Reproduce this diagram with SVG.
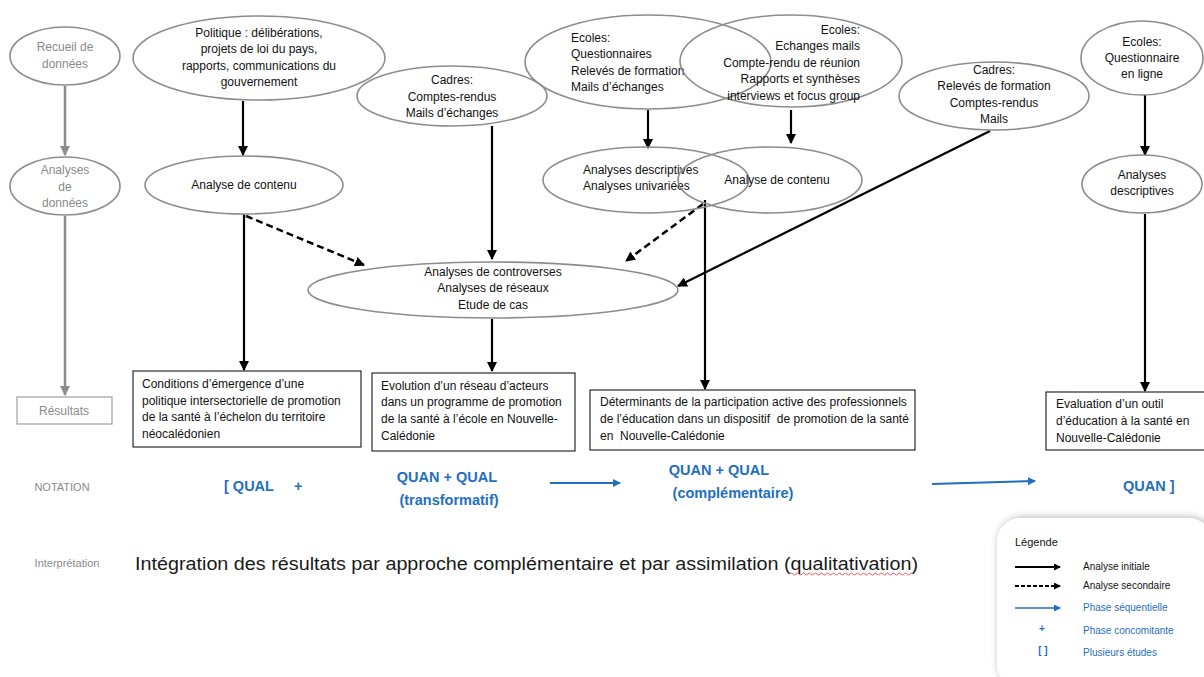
<svg xmlns="http://www.w3.org/2000/svg" width="1204" height="677" viewBox="0 0 1204 677">
<defs>
<marker id="ah" markerWidth="10" markerHeight="10" refX="9" refY="5" orient="auto" markerUnits="userSpaceOnUse"><path d="M0,0 L10,5 L0,10 z" fill="#000"/></marker>
<marker id="ahg" markerWidth="10" markerHeight="10" refX="9" refY="5" orient="auto" markerUnits="userSpaceOnUse"><path d="M0,0 L10,5 L0,10 z" fill="#8c8c8c"/></marker>
<marker id="ahb" markerWidth="8" markerHeight="8" refX="7" refY="4" orient="auto" markerUnits="userSpaceOnUse"><path d="M0,0 L8,4 L0,8 z" fill="#1f6fc0"/></marker>
<marker id="ahs" markerWidth="7" markerHeight="7" refX="6" refY="3.5" orient="auto" markerUnits="userSpaceOnUse"><path d="M0,0 L7,3.5 L0,7 z" fill="#000"/></marker>
<marker id="ahsb" markerWidth="7" markerHeight="7" refX="6" refY="3.5" orient="auto" markerUnits="userSpaceOnUse"><path d="M0,0 L7,3.5 L0,7 z" fill="#1f6fc0"/></marker>
<filter id="sh" x="-20%" y="-20%" width="140%" height="140%"><feGaussianBlur in="SourceAlpha" stdDeviation="4"/><feOffset dx="2" dy="0"/><feComponentTransfer><feFuncA type="linear" slope="0.35"/></feComponentTransfer><feMerge><feMergeNode/><feMergeNode in="SourceGraphic"/></feMerge></filter>
</defs>
<style>
text{font-family:"Liberation Sans Narrow","Liberation Sans",Arial,sans-serif;font-size:12px;fill:#111}
.c{text-anchor:middle}
.e{text-anchor:end}
.ell{fill:none;stroke:#8c8c8c;stroke-width:1.6}
.gl{fill:#8a8a8a}
.box{fill:#fff;stroke:#000;stroke-width:1}
.solid{stroke:#000;stroke-width:2.2;fill:none;marker-end:url(#ah)}
.dash{stroke:#000;stroke-width:2.5;fill:none;stroke-dasharray:7 4;marker-end:url(#ah)}
.gray{stroke:#8c8c8c;stroke-width:2.5;fill:none;marker-end:url(#ahg)}
.blue{stroke:#1f6fc0;stroke-width:2;fill:none;marker-end:url(#ahb)}
.nb{fill:#1f6fc0;font-weight:bold;font-size:14.5px}
.lg{font-size:10px}
.lb{fill:#1f6fc0;font-size:10px}
</style>
<rect width="1204" height="677" fill="#fff"/>

<g id="connectors">
<line class="gray" x1="65" y1="86" x2="65" y2="155"/>
<line class="gray" x1="65" y1="216" x2="65" y2="395"/>
<line class="solid" x1="243" y1="101" x2="243" y2="155"/>
<line class="solid" x1="244" y1="214" x2="244" y2="370"/>
<path class="dash" d="M246,216 L364,265"/>
<line class="solid" x1="492" y1="126" x2="492" y2="259"/>
<line class="solid" x1="492" y1="319" x2="492" y2="371"/>
<line class="solid" x1="648" y1="110" x2="648" y2="148"/>
<line class="solid" x1="791" y1="110" x2="791" y2="143"/>
<path class="dash" d="M703,204 L626,261"/>
<line class="solid" x1="705" y1="200" x2="705" y2="389"/>
<line class="solid" x1="990" y1="131" x2="678" y2="286"/>
<line class="solid" x1="1145" y1="95" x2="1145" y2="155"/>
<line class="solid" x1="1145" y1="214" x2="1145" y2="391"/>
<line class="blue" x1="550" y1="483" x2="620" y2="483"/>
<line class="blue" x1="932" y1="484" x2="1035" y2="481"/>
</g>

<g id="recueil">
<ellipse class="ell" cx="65" cy="56" rx="55" ry="29"/>
<text class="c gl" x="65" y="51">Recueil de</text>
<text class="c gl" x="65" y="68">données</text>
</g>
<g id="analyses-donnees">
<ellipse class="ell" cx="65" cy="186" rx="55" ry="29"/>
<text class="c gl" x="65" y="174">Analyses</text>
<text class="c gl" x="65" y="191">de</text>
<text class="c gl" x="65" y="207">données</text>
</g>
<g id="resultats">
<rect x="17" y="397" width="95" height="27" fill="#fff" stroke="#8c8c8c" stroke-width="1"/>
<text class="c gl" x="64" y="415">Résultats</text>
</g>

<g id="politique">
<ellipse class="ell" cx="259" cy="58" rx="126" ry="42"/>
<text class="c" x="259" y="37">Politique : délibérations,</text>
<text class="c" x="259" y="53">projets de loi du pays,</text>
<text class="c" x="259" y="70">rapports, communications du</text>
<text class="c" x="259" y="86">gouvernement</text>
</g>
<g id="analyse-contenu-1">
<ellipse class="ell" cx="244" cy="185" rx="99" ry="29"/>
<text class="c" x="244" y="189">Analyse de contenu</text>
</g>
<g id="cadres-1">
<ellipse class="ell" cx="452" cy="96" rx="95" ry="30"/>
<text class="c" x="452" y="84">Cadres:</text>
<text class="c" x="452" y="101">Comptes-rendus</text>
<text class="c" x="452" y="117">Mails d’échanges</text>
</g>
<g id="ecoles-1">
<ellipse class="ell" cx="648" cy="62" rx="123" ry="47"/>
<text x="571" y="42">Ecoles:</text>
<text x="571" y="58">Questionnaires</text>
<text x="571" y="75">Relevés de formation</text>
<text x="571" y="91">Mails d’échanges</text>
</g>
<g id="ecoles-2">
<ellipse class="ell" cx="791" cy="61" rx="111" ry="46"/>
<text class="e" x="860" y="34">Ecoles:</text>
<text class="e" x="860" y="50">Echanges mails</text>
<text class="e" x="860" y="67">Compte-rendu de réunion</text>
<text class="e" x="860" y="83">Rapports et synthèses</text>
<text class="e" x="860" y="100">interviews et focus group</text>
</g>
<g id="analyses-descriptives-1">
<ellipse class="ell" cx="646" cy="180" rx="103" ry="33"/>
<text x="583" y="174">Analyses descriptives</text>
<text x="583" y="190">Analyses univariées</text>
</g>
<g id="analyse-contenu-2">
<ellipse class="ell" cx="770" cy="180" rx="92" ry="33"/>
<text class="c" x="777" y="184">Analyse de contenu</text>
</g>
<g id="cadres-2">
<ellipse class="ell" cx="994" cy="96" rx="95" ry="34"/>
<text class="c" x="994" y="74">Cadres:</text>
<text class="c" x="994" y="90">Relevés de formation</text>
<text class="c" x="994" y="107">Comptes-rendus</text>
<text class="c" x="994" y="123">Mails</text>
</g>
<g id="ecoles-3">
<ellipse class="ell" cx="1142" cy="58" rx="61" ry="37"/>
<text class="c" x="1142" y="46">Ecoles:</text>
<text class="c" x="1142" y="62">Questionnaire</text>
<text class="c" x="1142" y="78">en ligne</text>
</g>
<g id="analyses-descriptives-2">
<ellipse class="ell" cx="1142" cy="184" rx="60" ry="29"/>
<text class="c" x="1142" y="179">Analyses</text>
<text class="c" x="1142" y="195">descriptives</text>
</g>
<g id="controverses">
<ellipse class="ell" cx="493" cy="290" rx="185" ry="28"/>
<text class="c" x="493" y="276">Analyses de controverses</text>
<text class="c" x="493" y="292">Analyses de réseaux</text>
<text class="c" x="493" y="309">Etude de cas</text>
</g>

<g id="resultat-1">
<rect class="box" x="133" y="371" width="228" height="76"/>
<text x="142" y="388">Conditions d’émergence d’une</text>
<text x="142" y="405">politique intersectorielle de promotion</text>
<text x="142" y="421">de la santé à l’échelon du territoire</text>
<text x="142" y="438">néocalédonien</text>
</g>
<g id="resultat-2">
<rect class="box" x="372" y="373" width="203" height="78"/>
<text x="381" y="390">Evolution d’un réseau d’acteurs</text>
<text x="381" y="406">dans un programme de promotion</text>
<text x="381" y="423">de la santé à l’école en Nouvelle-</text>
<text x="381" y="440">Calédonie</text>
</g>
<g id="resultat-3">
<rect class="box" x="590" y="390" width="325" height="60"/>
<text x="600" y="406">Déterminants de la participation active des professionnels</text>
<text x="600" y="423">de l’éducation dans un dispositif &#160;de promotion de la santé</text>
<text x="600" y="440">en &#160;Nouvelle-Calédonie</text>
</g>
<g id="resultat-4">
<rect class="box" x="1046" y="392" width="162" height="58"/>
<text x="1056" y="408">Evaluation d’un outil</text>
<text x="1056" y="425">d’éducation à la santé en</text>
<text x="1056" y="442">Nouvelle-Calédonie</text>
</g>

<g id="notation">
<text class="c gl" x="62" y="491" style="font-size:11px">NOTATION</text>
<text class="nb" x="224" y="491">[ QUAL</text>
<text class="nb" x="294" y="491">+</text>
<text class="nb c" x="447" y="482">QUAN + QUAL</text>
<text class="nb c" x="449" y="505">(transformatif)</text>
<text class="nb c" x="719" y="475">QUAN + QUAL</text>
<text class="nb c" x="733" y="498">(complémentaire)</text>
<text class="nb" x="1123" y="491">QUAN ]</text>
</g>

<g id="interpretation">
<text class="c gl" x="67" y="567" style="font-size:11px">Interprétation</text>
<text x="135" y="570" style="font-family:'Liberation Sans',Arial,sans-serif;font-size:17.5px;fill:#1a1a1a" textLength="783" lengthAdjust="spacingAndGlyphs">Intégration des résultats par approche complémentaire et par assimilation (qualitativation)</text>
<path d="M790,574 q1.5,-2 3,0 t3,0 t3,0 t3,0 t3,0 t3,0 t3,0 t3,0 t3,0 t3,0 t3,0 t3,0 t3,0 t3,0 t3,0 t3,0 t3,0 t3,0 t3,0 t3,0 t3,0 t3,0 t3,0 t3,0 t3,0 t3,0 t3,0 t3,0 t3,0 t3,0 t3,0 t3,0 t3,0 t3,0 t3,0 t3,0 t3,0 t3,0 t3,0 t3,0 t3,0" fill="none" stroke="#e03030" stroke-width="0.8"/>
</g>

<g id="legende">
<rect x="997" y="518" width="215" height="170" rx="24" fill="#fff" filter="url(#sh)"/>
<text x="1015" y="546" style="font-size:11px">Légende</text>
<line x1="1015" y1="567" x2="1060" y2="567" stroke="#000" stroke-width="2" marker-end="url(#ahs)"/>
<text class="lg" x="1083" y="570">Analyse initiale</text>
<line x1="1015" y1="586" x2="1060" y2="586" stroke="#000" stroke-width="2" stroke-dasharray="4 2" marker-end="url(#ahs)"/>
<text class="lg" x="1083" y="589">Analyse secondaire</text>
<line x1="1015" y1="608" x2="1060" y2="608" stroke="#1f6fc0" stroke-width="1.5" marker-end="url(#ahsb)"/>
<text class="lb" x="1083" y="611">Phase séquentielle</text>
<text class="lb c" x="1042" y="632" style="font-weight:bold">+</text>
<text class="lb" x="1083" y="634">Phase concomitante</text>
<text class="lb c" x="1043" y="654" style="font-weight:bold">[ ]</text>
<text class="lb" x="1083" y="656">Plusieurs études</text>
</g>
</svg>
